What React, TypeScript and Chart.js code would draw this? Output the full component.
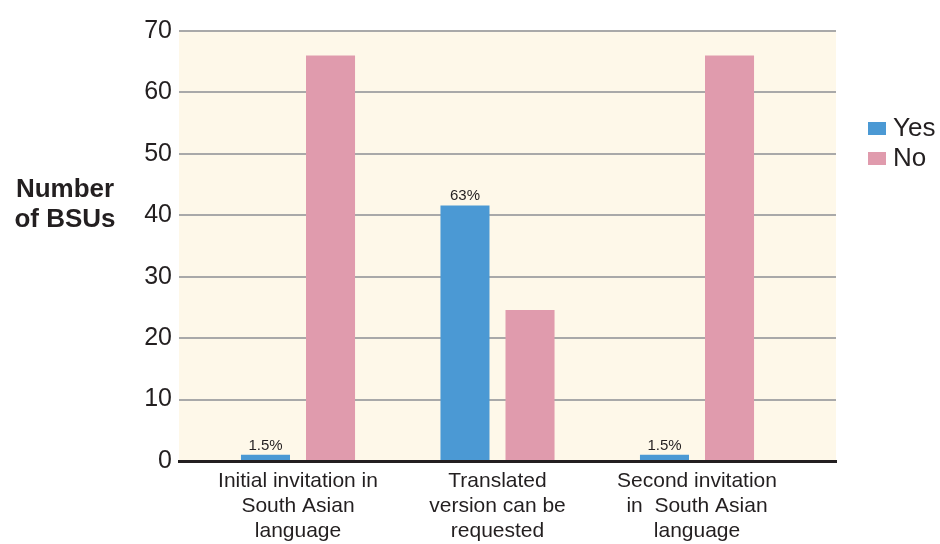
import React, { useEffect, useRef } from "react";
import { Chart, registerables } from "chart.js";

Chart.register(...registerables);

// Category labels (one line per array entry)
const categories: string[][] = [
  ["Initial invitation in", "South Asian", "language"],
  ["Translated", "version can be", "requested"],
  ["Second invitation", "in  South Asian", "language"],
];

const yesValues = [1, 41.6, 1];
const noValues = [66, 24.6, 66];
const yesValueLabels = ["1.5%", "63%", "1.5%"];

const yTicks = [0, 10, 20, 30, 40, 50, 60, 70];
const yTitleLines = ["Number", "of BSUs"];
const seriesNames = ["Yes", "No"];

const BLUE = "#4b99d4";
const PINK = "#e09bad";
const CREAM = "#fef8e9";
const GRID = "#a9a9a9";
const TEXT = "#231f20";
const FONT = "'Liberation Sans', Arial, Helvetica, sans-serif";

const plotBackground = {
  id: "plotBackground",
  beforeDraw(chart: any) {
    const { ctx, chartArea } = chart;
    ctx.save();
    ctx.fillStyle = CREAM;
    ctx.fillRect(chartArea.left, chartArea.top, chartArea.right - chartArea.left, chartArea.bottom - chartArea.top);
    ctx.restore();
  },
};

const valueLabels = {
  id: "valueLabels",
  afterDatasetsDraw(chart: any) {
    const { ctx } = chart;
    const meta = chart.getDatasetMeta(0);
    ctx.save();
    ctx.font = `15px ${FONT}`;
    ctx.fillStyle = TEXT;
    ctx.textAlign = "center";
    ctx.textBaseline = "alphabetic";
    meta.data.forEach((bar: any, i: number) => {
      ctx.fillText(yesValueLabels[i], bar.x, bar.y - 5);
    });
    ctx.restore();
  },
};

const sideTexts = {
  id: "sideTexts",
  afterDraw(chart: any) {
    const { ctx, chartArea } = chart;
    ctx.save();
    // horizontal y-axis title
    ctx.font = `bold 26px ${FONT}`;
    ctx.fillStyle = TEXT;
    ctx.textAlign = "center";
    ctx.textBaseline = "alphabetic";
    const tx = chartArea.left - 114;
    yTitleLines.forEach((line, i) => {
      ctx.fillText(line, tx, chartArea.top + 166 + i * 30);
    });
    // legend
    const colors = [BLUE, PINK];
    const lx = chartArea.right + 32;
    ctx.font = `26px ${FONT}`;
    ctx.textAlign = "left";
    seriesNames.forEach((name, i) => {
      const by = chartArea.top + 91 + i * 30;
      ctx.fillStyle = colors[i];
      ctx.fillRect(lx, by, 18, 13);
      ctx.fillStyle = TEXT;
      ctx.fillText(name, lx + 25, by + 14);
    });
    ctx.restore();
  },
};

export default function App() {
  const canvasRef = useRef<HTMLCanvasElement | null>(null);

  useEffect(() => {
    if (!canvasRef.current) return;
    const chart = new Chart(canvasRef.current, {
      type: "bar",
      data: {
        datasets: [
          {
            label: seriesNames[0],
            data: yesValues.map((v, i) => ({ x: i, y: v })),
            backgroundColor: BLUE,
            categoryPercentage: 0.652,
            barPercentage: 0.754,
          },
          {
            label: seriesNames[1],
            data: noValues.map((v, i) => ({ x: i, y: v })),
            backgroundColor: PINK,
            categoryPercentage: 0.652,
            barPercentage: 0.754,
          },
        ],
      },
      options: {
        animation: false,
        responsive: false,
        maintainAspectRatio: false,
        layout: { padding: { top: 31, right: 104, bottom: 0, left: 0 } },
        plugins: {
          legend: { display: false },
          tooltip: { enabled: false },
        },
        scales: {
          x: {
            type: "linear",
            offset: false,
            bounds: "data",
            min: -0.5965,
            max: 2.6967,
            afterBuildTicks: (scale: any) => {
              scale.ticks = categories.map((_, i) => ({ value: i }));
            },
            afterFit: (scale: any) => {
              scale.height = 83;
            },
            grid: { display: false, drawTicks: false, offset: false },
            border: { display: true, color: TEXT, width: 3 },
            ticks: {
              autoSkip: false,
              maxRotation: 0,
              padding: 8,
              color: TEXT,
              font: { family: FONT, size: 21, lineHeight: "25px" },
              callback: (value: any) => categories[value as number] ?? "",
            },
          },
          y: {
            min: 0,
            max: 70,
            afterBuildTicks: (scale: any) => {
              scale.ticks = yTicks.map((v) => ({ value: v }));
            },
            afterFit: (scale: any) => {
              scale.width = 179;
            },
            grid: {
              drawTicks: false,
              lineWidth: 2,
              color: (ctx: any) => (ctx.tick && ctx.tick.value === 0 ? "rgba(0,0,0,0)" : GRID),
            },
            border: { display: false },
            ticks: {
              padding: 7,
              color: TEXT,
              font: { family: FONT, size: 25 },
            },
          },
        },
      },
      plugins: [plotBackground, valueLabels, sideTexts],
    } as any);
    return () => chart.destroy();
  }, []);

  return (
    <div style={{ position: "fixed", left: 0, top: 0, width: 940, height: 544, background: "#ffffff" }}>
      <canvas ref={canvasRef} width={940} height={544} style={{ width: 940, height: 544 }} />
    </div>
  );
}
